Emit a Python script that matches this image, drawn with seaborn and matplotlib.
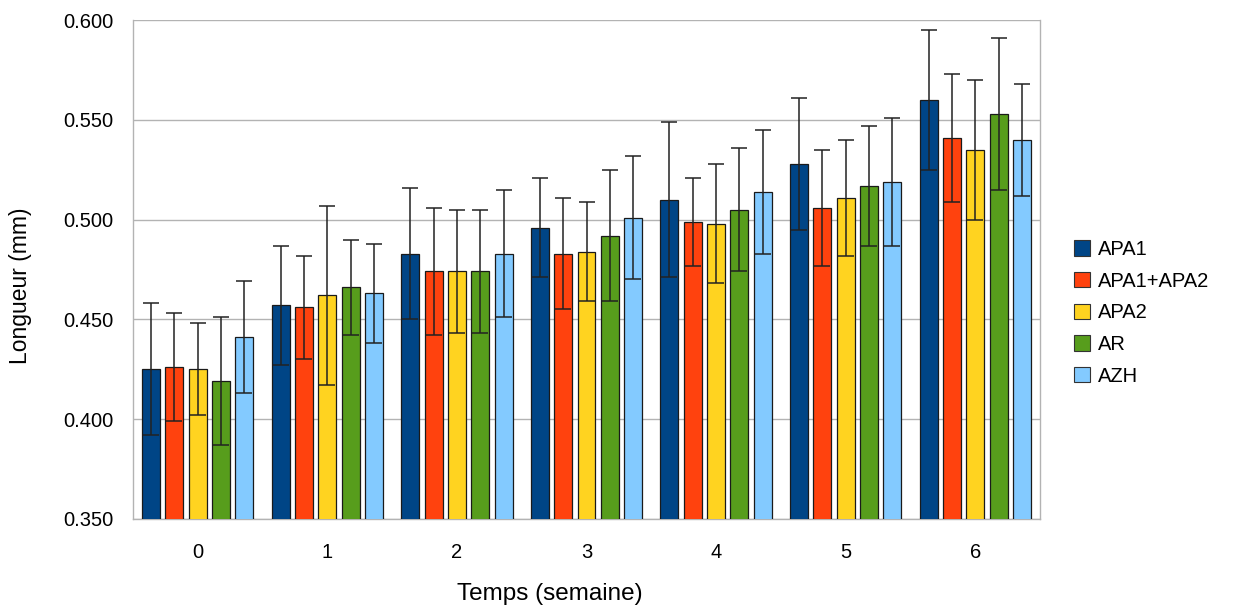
import numpy as np
import pandas as pd
import matplotlib
matplotlib.use("Agg")
import matplotlib.pyplot as plt
import seaborn as sns

semaines = ["0", "1", "2", "3", "4", "5", "6"]
series = ["APA1", "APA1+APA2", "APA2", "AR", "AZH"]

moyennes = {
    "APA1":      [0.425, 0.457, 0.483, 0.496, 0.510, 0.528, 0.560],
    "APA1+APA2": [0.426, 0.456, 0.474, 0.483, 0.499, 0.506, 0.541],
    "APA2":      [0.425, 0.462, 0.474, 0.484, 0.498, 0.511, 0.535],
    "AR":        [0.419, 0.466, 0.474, 0.492, 0.505, 0.517, 0.553],
    "AZH":       [0.441, 0.463, 0.483, 0.501, 0.514, 0.519, 0.540],
}
ecarts = {
    "APA1":      [0.033, 0.030, 0.033, 0.025, 0.039, 0.033, 0.035],
    "APA1+APA2": [0.027, 0.026, 0.032, 0.028, 0.022, 0.029, 0.032],
    "APA2":      [0.023, 0.045, 0.031, 0.025, 0.030, 0.029, 0.035],
    "AR":        [0.032, 0.024, 0.031, 0.033, 0.031, 0.030, 0.038],
    "AZH":       [0.028, 0.025, 0.032, 0.031, 0.031, 0.032, 0.028],
}
couleurs = ["#004586", "#ff420e", "#ffd320", "#579d1c", "#83caff"]

# table longue pour seaborn
lignes = []
for s in series:
    for i, sem in enumerate(semaines):
        lignes.append({"semaine": sem, "serie": s, "valeur": moyennes[s][i]})
df = pd.DataFrame(lignes)

sns.set_style("white")
plt.rcParams["font.family"] = ["Liberation Sans", "DejaVu Sans"]
plt.rcParams["text.color"] = "black"
plt.rcParams["axes.labelcolor"] = "black"

fig = plt.figure(figsize=(12.34, 6.05), dpi=100)
ax = fig.add_axes([133 / 1234, 86 / 605, 907 / 1234, 499 / 605])

sns.barplot(data=df, x="semaine", y="valeur", hue="serie", order=semaines,
            hue_order=series, palette=couleurs, width=0.9, gap=0.23,
            edgecolor="#1a1a1a", linewidth=0.9, saturation=1, errorbar=None,
            legend=False, ax=ax, zorder=3)

# barres d'erreur sur les centres des barres
for s, cont in zip(series, ax.containers):
    xs = [p.get_x() + p.get_width() / 2 for p in cont.patches]
    ys = [p.get_height() for p in cont.patches]
    ax.errorbar(xs, ys, yerr=ecarts[s], fmt="none", ecolor="#222222",
                elinewidth=1.1, capsize=6, capthick=1.1, zorder=4)

ax.set_ylim(0.35, 0.60)
ax.set_xlim(-0.5, 6.5)
graduations = np.arange(0.35, 0.601, 0.05)
ax.set_yticks(graduations)
ax.set_yticklabels([f"{v:.3f}" for v in graduations])
ax.yaxis.grid(True, color="#b3b3b3", linewidth=1, zorder=0)
ax.set_axisbelow(True)

ax.set_xticks(np.arange(-0.5, 6.6, 1), minor=True)
ax.tick_params(axis="x", which="major", length=0, pad=17, labelsize=14.5, labelcolor="black")
ax.tick_params(axis="x", which="minor", length=8, color="#b3b3b3", width=1)
ax.tick_params(axis="y", which="major", length=8, color="#b3b3b3", width=1,
               labelsize=14.5, pad=6, labelcolor="black")

for side in ["left", "bottom", "right", "top"]:
    ax.spines[side].set_color("#b3b3b3")
    ax.spines[side].set_linewidth(1)
ax.spines["top"].set_visible(False)

ax.set_xlabel("Temps (semaine)", fontsize=17.5, va="top", color="black")
ax.xaxis.set_label_coords(0.46, -0.128)
ax.set_ylabel("Longueur (mm)", fontsize=16.5, color="black")
ax.yaxis.set_label_coords(-0.111, 0.468)

handles = [plt.Rectangle((0, 0), 1, 1, facecolor=c, edgecolor="#333333", linewidth=0.8) for c in couleurs]
fig.legend(handles, series, loc="center left", bbox_to_anchor=(1056 / 1234, 0.483),
           frameon=False, fontsize=14.5, handlelength=0.8, handleheight=0.8,
           labelspacing=0.63, handletextpad=0.4, labelcolor="black")

fig.savefig("out.png", dpi=100)
